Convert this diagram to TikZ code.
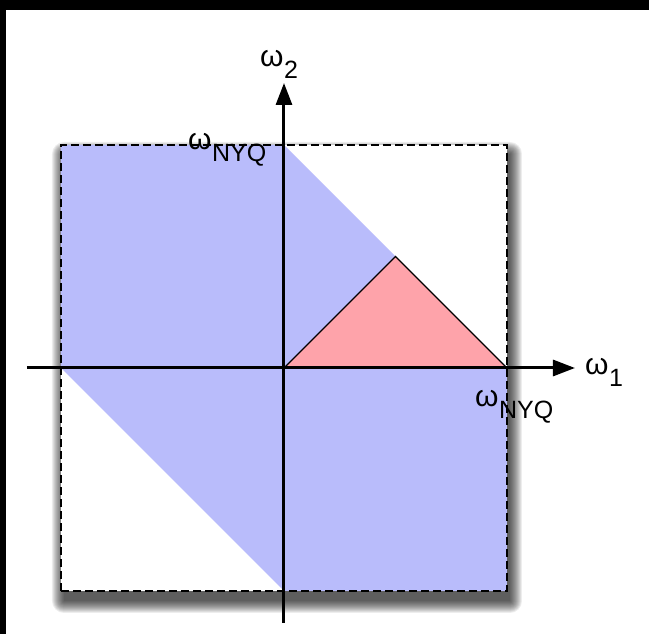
\documentclass[tikz,border=0pt]{standalone}
\usepackage{fontspec}
\setmainfont{Liberation Sans}
\usetikzlibrary{arrows.meta}
\definecolor{bandblue}{RGB}{185,188,251}
\definecolor{trired}{RGB}{254,163,170}
\newcommand{\wlab}[1]{{\fontsize{30}{30}\selectfont ω}\kern0.5pt\raisebox{-12pt}{\fontsize{25}{25}\selectfont #1}}
\begin{document}
\begin{tikzpicture}[x=1pt, y=1pt, >={Triangle[length=22pt,width=16pt]},
    axis/.style={line width=3pt, ->},
    lbl/.style={anchor=base west, inner sep=0pt}]
    \fill[white] (-284,-266) rectangle (365,368);
    \useasboundingbox (-284,-266) rectangle (365,368);
    \fill[black] (-284,358) rectangle (365,368);
    \fill[black] (-284,-266) rectangle (-278,368);

    \foreach \r in {0,1,...,12}
        \fill[black, opacity=0.07, rounded corners=\r pt] (-220-\r,-233-\r) rectangle (226+\r,214+\r);

    \coordinate (O) at (0,0);
    \coordinate (sw) at (-223,-223);
    \coordinate (ne) at (223,223);
    \coordinate (nyq) at (223,0);
    \coordinate (apex) at (111.5,111.5);
    \fill[white] (sw) rectangle (ne);
    \fill[bandblue] (-223,223) -- (0,223) -- (nyq) -- (223,-223) -- (0,-223) -- (-223,0) -- cycle;
    \filldraw[fill=trired, line width=1.3pt, line join=miter] (O) -- (nyq) -- (apex) -- cycle;
    \draw[dash pattern=on 8pt off 4pt, line width=1.3pt] (sw) rectangle (ne);

    \coordinate (xl) at (-257,0);
    \coordinate (xr) at (291,0);
    \coordinate (yb) at (0,-255);
    \coordinate (yt) at (0,285);
    \draw[axis] (xl) -- (xr);
    \draw[axis] (yb) -- (yt);

    \node (w1) [lbl] at (301,-7) {\wlab{1}};
    \node (w2) [lbl] at (-24,301) {\wlab{2}};
    \node (wnyqtop) [lbl] at (-96,218) {\wlab{NYQ}};
    \node (wnyqright) [lbl] at (191,-39) {\wlab{NYQ}};
\end{tikzpicture}
\end{document}
